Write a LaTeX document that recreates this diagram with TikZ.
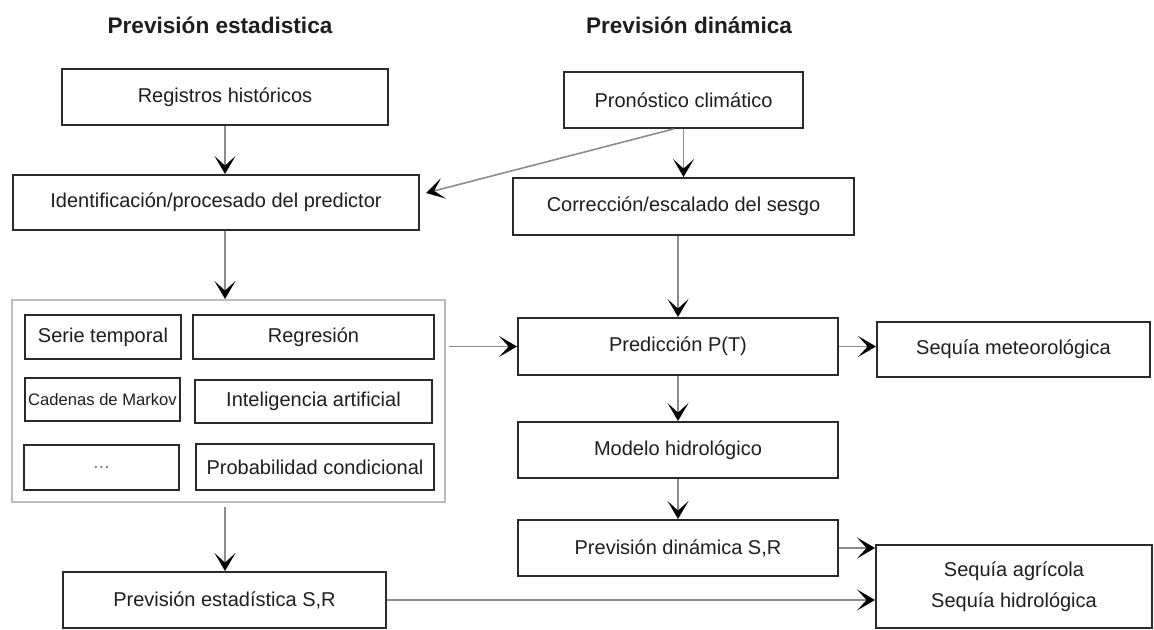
\documentclass[tikz,border=0pt]{standalone}
\usepackage{fontspec}
\setmainfont{Liberation Sans}
\usetikzlibrary{arrows.meta,calc}
\definecolor{boxline}{HTML}{2A2A2A}
\definecolor{conngray}{HTML}{8C8C8C}
\definecolor{grpline}{HTML}{BDBDBD}
\definecolor{txt}{HTML}{1E1E1E}
\begin{document}
\begin{tikzpicture}[x=0.5pt,y=-0.5pt,
  sz/.style 2 args={minimum width=#1*0.5pt, minimum height=#2*0.5pt},
  stepbox/.style={draw=boxline, line width=1pt, fill=white, inner sep=0pt, text=txt,
                  font=\fontsize{10}{12}\selectfont, align=center},
  conn/.style={draw=conngray, line width=0.8pt,
               -{Stealth[color=black,length=9pt,width=10.5pt,inset=4.8pt]}},
  title/.style={font=\bfseries\fontsize{11.3}{13}\selectfont, text=txt}]
\useasboundingbox[fill=white] (0,0) rectangle (1154,630);

% titles
\node[title] (t1) at (220,25) {Previsión estadistica};
\node[title] (t2) at (689,25) {Previsión dinámica};

% left column
\node[stepbox, sz={326}{56}] (reg) at (225,97) {Registros históricos};
\node[stepbox, sz={406}{55}] (ident) at (216,202.5) {Identificación/procesado del predictor};
\node[draw=grpline, line width=1pt, fill=white, sz={433}{202}] (grp) at (228.5,401) {};
\node[stepbox, sz={156}{44}] (serie) at (103,337) {Serie temporal};
\node[stepbox, sz={241}{44}] (regr) at (313.5,337) {Regresión};
\node[stepbox, sz={155}{43}, font=\fontsize{8.3}{10}\selectfont] (markov) at (102.5,399.5) {Cadenas de Markov};
\node[stepbox, sz={237}{43}] (ia) at (313.5,401.5) {Inteligencia artificial};
\node[stepbox, sz={155}{45}, font=\fontsize{10}{12}\selectfont, text=gray] (dots) at (101.5,467.5) {...};
\node[stepbox, sz={238}{46}] (prob) at (315,467) {Probabilidad condicional};
\node[stepbox, sz={323}{56}] (pest) at (224.5,600) {Previsión estadística S,R};

% right column
\node[stepbox, sz={239}{56}] (pron) at (683.5,100) {Pronóstico climático};
\node[stepbox, sz={341}{57}] (corr) at (683.5,206.5) {Corrección/escalado del sesgo};
\node[stepbox, sz={320}{57}] (pred) at (678,346.5) {Predicción P(T)};
\node[stepbox, sz={273}{55}] (smet) at (1013.5,349.5) {Sequía meteorológica};
\node[stepbox, sz={320}{56}] (modelo) at (678,450) {Modelo hidrológico};
\node[stepbox, sz={320}{56}] (pdin) at (678,548) {Previsión dinámica S,R};
\node[stepbox, sz={276}{83}, font=\fontsize{10}{15.5}\selectfont] (sagr) at (1014,586.5) {Sequía agrícola\\Sequía hidrológica};

% connectors
\draw[conn] (reg.south) -- (reg.south |- ident.north);
\draw[conn] ($(pron.south)+(-10,0)$) -- ($(ident.east)+(6,-9.5)$);
\draw[conn] (pron.south) -- (pron.south |- corr.north);
\draw[conn] (pred.north |- corr.south) -- (pred.north);
\draw[conn] (reg.south |- ident.south) -- (reg.south |- grp.north);
\draw[conn, shorten <=2pt] (reg.south |- grp.south) -- (reg.south |- pest.north);
\draw[conn, shorten <=1.5pt] (grp.east |- pred.west) -- (pred.west);
\draw[conn] (pred.east) -- (pred.east -| smet.west);
\draw[conn] (pred.south) -- (modelo.north);
\draw[conn] (modelo.south) -- (pdin.north);
\draw[conn] (pdin.east) -- (pdin.east -| sagr.west);
\draw[conn] (pest.east) -- (pest.east -| sagr.west);
\end{tikzpicture}
\end{document}
